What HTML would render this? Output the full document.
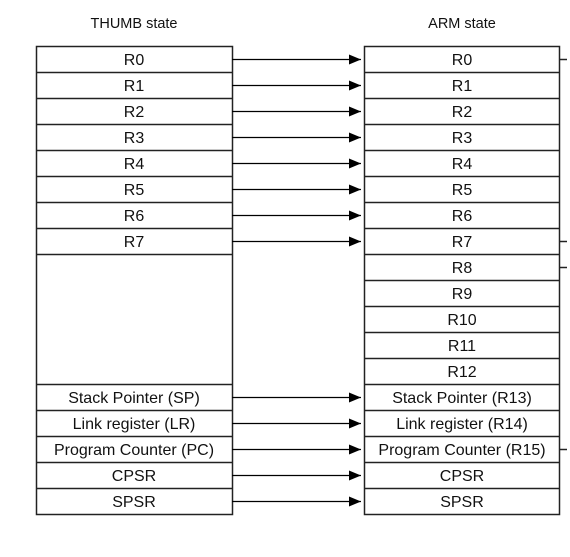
<!DOCTYPE html>
<html><head><style>
body{margin:0;background:#fff;}
svg text{font-family:"Liberation Sans",Arial,sans-serif;font-size:16px;fill:#111;}
</style></head><body>
<svg width="570" height="552" viewBox="0 0 570 552" xmlns="http://www.w3.org/2000/svg">
<defs><marker id="a" markerWidth="12" markerHeight="10" refX="12" refY="5" orient="auto" markerUnits="userSpaceOnUse"><path d="M0,0 L12,5 L0,10 z" fill="#000"/></marker></defs>
<text x="134" y="28" text-anchor="middle" style="font-size:14.5px">THUMB state</text>
<text x="462" y="28" text-anchor="middle" style="font-size:14.5px">ARM state</text>
<g stroke="#222" stroke-width="1.5" fill="none">
<rect x="36.5" y="46.5" width="196" height="468"/>
<rect x="364.5" y="46.5" width="195" height="468"/>
<path d="M36 72.5H232M36 98.5H232M36 124.5H232M36 150.5H232M36 176.5H232M36 202.5H232M36 228.5H232M36 254.5H232M36 384.5H232M36 410.5H232M36 436.5H232M36 462.5H232M36 488.5H232"/>
<path d="M364 72.5H559M364 98.5H559M364 124.5H559M364 150.5H559M364 176.5H559M364 202.5H559M364 228.5H559M364 254.5H559M364 280.5H559M364 306.5H559M364 332.5H559M364 358.5H559M364 384.5H559M364 410.5H559M364 436.5H559M364 462.5H559M364 488.5H559"/>
<path d="M559 59.5H567M559 241.5H567M559 267.5H567M559 449.5H567"/>
</g>
<g stroke="#000" stroke-width="1.3" marker-end="url(#a)">
<line x1="232" y1="59.5" x2="361" y2="59.5"/>
<line x1="232" y1="85.5" x2="361" y2="85.5"/>
<line x1="232" y1="111.5" x2="361" y2="111.5"/>
<line x1="232" y1="137.5" x2="361" y2="137.5"/>
<line x1="232" y1="163.5" x2="361" y2="163.5"/>
<line x1="232" y1="189.5" x2="361" y2="189.5"/>
<line x1="232" y1="215.5" x2="361" y2="215.5"/>
<line x1="232" y1="241.5" x2="361" y2="241.5"/>
<line x1="232" y1="397.5" x2="361" y2="397.5"/>
<line x1="232" y1="423.5" x2="361" y2="423.5"/>
<line x1="232" y1="449.5" x2="361" y2="449.5"/>
<line x1="232" y1="475.5" x2="361" y2="475.5"/>
<line x1="232" y1="501.5" x2="361" y2="501.5"/>
</g>
<g text-anchor="middle">
<text x="134" y="65">R0</text><text x="134" y="91">R1</text><text x="134" y="117">R2</text><text x="134" y="143">R3</text>
<text x="134" y="169">R4</text><text x="134" y="195">R5</text><text x="134" y="221">R6</text><text x="134" y="247">R7</text>
<text x="134" y="403">Stack Pointer (SP)</text><text x="134" y="429">Link register (LR)</text>
<text x="134" y="455">Program Counter (PC)</text><text x="134" y="481">CPSR</text><text x="134" y="507">SPSR</text>
<text x="462" y="65">R0</text><text x="462" y="91">R1</text><text x="462" y="117">R2</text><text x="462" y="143">R3</text>
<text x="462" y="169">R4</text><text x="462" y="195">R5</text><text x="462" y="221">R6</text><text x="462" y="247">R7</text>
<text x="462" y="273">R8</text><text x="462" y="299">R9</text><text x="462" y="325">R10</text><text x="462" y="351">R11</text>
<text x="462" y="377">R12</text>
<text x="462" y="403">Stack Pointer (R13)</text><text x="462" y="429">Link register (R14)</text>
<text x="462" y="455">Program Counter (R15)</text><text x="462" y="481">CPSR</text><text x="462" y="507">SPSR</text>
</g>
</svg>
</body></html>
